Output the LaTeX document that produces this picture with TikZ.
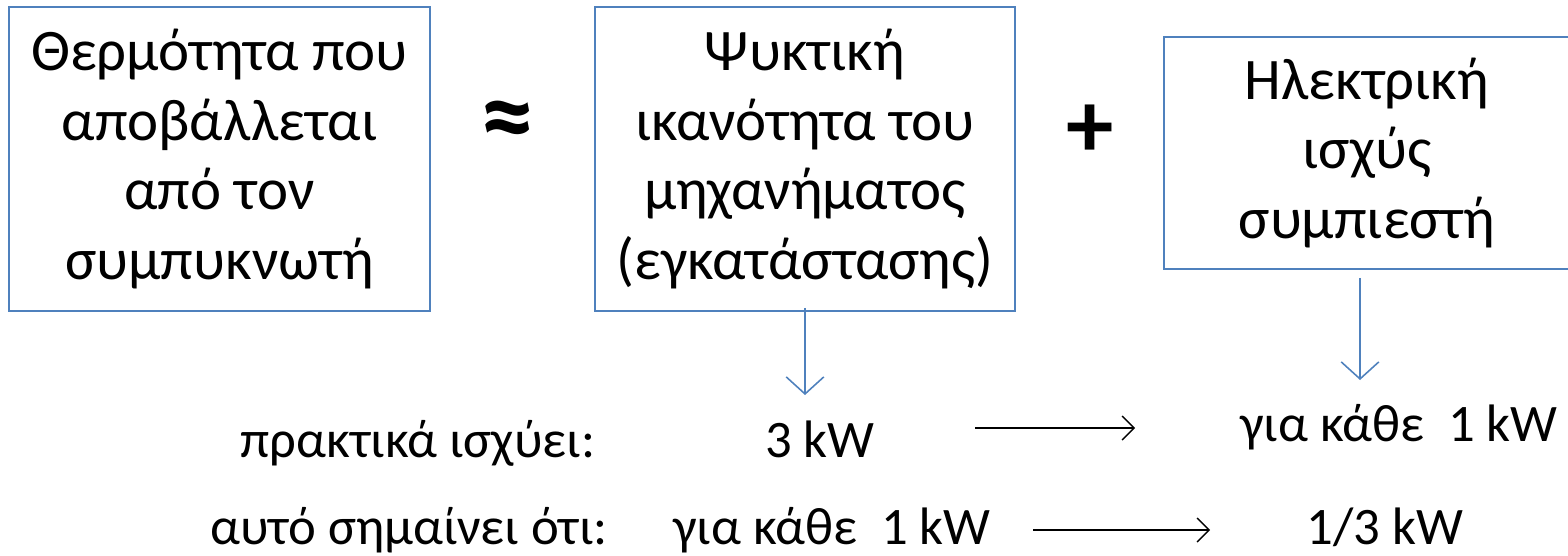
\documentclass[tikz,border=0pt]{standalone}
\usepackage{fontspec}
\setmainfont{Carlito}
\usetikzlibrary{arrows.meta}
\definecolor{boxblue}{RGB}{79,129,189}
\tikzset{
  bluebox/.style={draw=boxblue, line width=1.1pt, align=center, inner sep=0pt,
    font=\fontsize{33.5}{39.7}\selectfont},
  bluearrow/.style={draw=boxblue, line width=0.9pt, -{Straight Barb[length=3.4mm,width=7.5mm]}},
  blackarrow/.style={draw=black, line width=0.8pt, -{Straight Barb[length=2.4mm,width=4.8mm]}},
  txt/.style={anchor=base west, inner sep=0pt, font=\fontsize{30}{36}\selectfont}
}
\begin{document}
\begin{tikzpicture}[x=0.02cm,y=-0.02cm]
  \useasboundingbox (0,0) rectangle (1568,555);
  % boxes
  \node[bluebox, minimum width=8.42cm, minimum height=6.08cm] (heat) at (219.5,159)
    {Θερμότητα που\\αποβάλλεται\\από τον\\συμπυκνωτή};
  \node[bluebox, minimum width=8.40cm, minimum height=6.08cm] (cool) at (805,159)
    {Ψυκτική\\ικανότητα του\\μηχανήματος\\(εγκατάστασης)};
  \node[bluebox, minimum width=8.12cm, minimum height=4.64cm] (power) at (1367,153)
    {Ηλεκτρική\\ισχύς\\συμπιεστή};
  \node (approx) at (508,127) {\fontsize{62}{62}\selectfont\bfseries ≈};
  \node (plus) at (1090,131) {\fontsize{54}{54}\selectfont\bfseries +};
  % bottom rows
  \foreach \id / \x / \y / \t in {
      l1/240/457/{πρακτικά ισχύει:},
      kw3/765/457/{3 kW},
      per1/1240/441/{για κάθε\ \ 1 kW},
      l2/210/544/{αυτό σημαίνει ότι:},
      per2/673/544/{για κάθε\ \ 1 kW},
      third/1306/544/{1/3 kW}}{
    \node[txt] (\id) at (\x,\y) {\t};
  }
  % arrows
  \coordinate (coolend) at (805,395);
  \coordinate (powerend) at (1360,380);
  \draw[bluearrow] (cool.south) ++(0,-4) -- (coolend);
  \draw[bluearrow] (power.south -| powerend) ++(0,8) -- (powerend);
  \draw[blackarrow] ([xshift=2cm]kw3.east |- 0,428) -- ([xshift=-2.1cm]per1.west |- 0,428);
  \draw[blackarrow] ([xshift=0.84cm]per2.east |- 0,530) -- ([xshift=-1.92cm]third.west |- 0,530);
\end{tikzpicture}
\end{document}
